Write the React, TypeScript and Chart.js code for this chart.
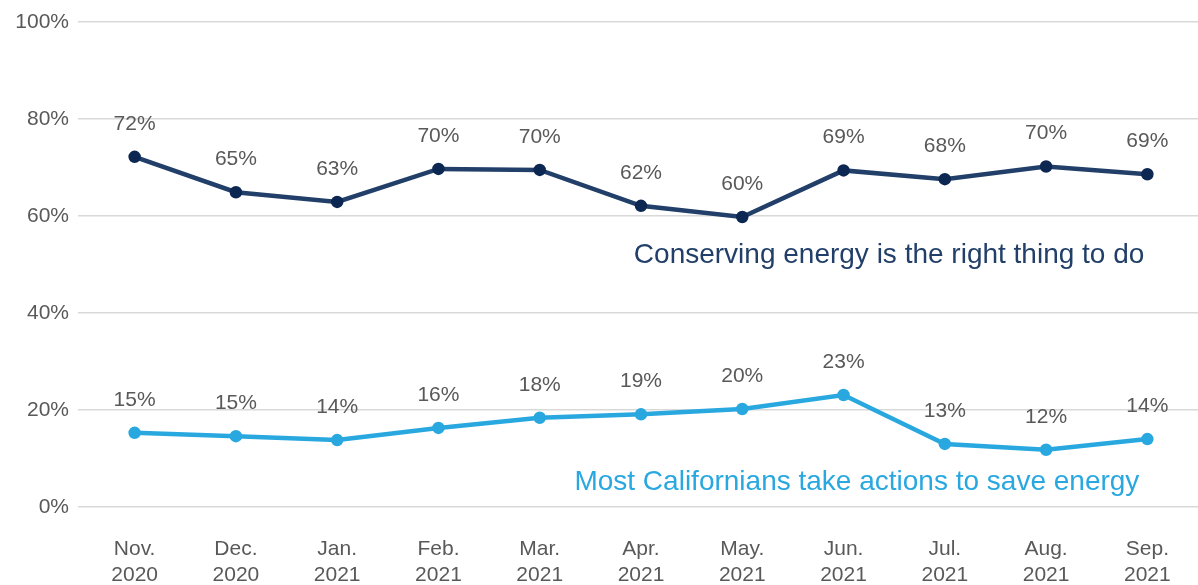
import React, { useEffect, useRef } from "react";
import { Chart, registerables } from "chart.js";

Chart.register(...registerables);

const months = ["Nov.", "Dec.", "Jan.", "Feb.", "Mar.", "Apr.", "May.", "Jun.", "Jul.", "Aug.", "Sep."];
const years = ["2020", "2020", "2021", "2021", "2021", "2021", "2021", "2021", "2021", "2021", "2021"];
const conservingValues = [72.2, 64.9, 62.9, 69.7, 69.5, 62.1, 59.8, 69.4, 67.6, 70.2, 68.6];
const actionsValues = [15.3, 14.6, 13.8, 16.3, 18.4, 19.1, 20.2, 23.1, 13.0, 11.8, 14.0];
const yTicks = [0, 20, 40, 60, 80, 100];
const seriesNames = ["Conserving energy is the right thing to do", "Most Californians take actions to save energy"];

const FONT = "'Liberation Sans', Arial, sans-serif";
const GRAY = "#595959";
const DARK = "#213f68";
const DARK_PT = "#0c2752";
const LIGHT = "#29a8e0";

const labelsPlugin = {
  id: "customLabels",
  afterDatasetsDraw(chart: any) {
    const ctx = chart.ctx;
    ctx.save();
    ctx.font = `21px ${FONT}`;
    ctx.fillStyle = GRAY;
    ctx.textAlign = "center";
    ctx.textBaseline = "middle";
    chart.data.datasets.forEach((ds: any, di: number) => {
      const meta = chart.getDatasetMeta(di);
      meta.data.forEach((pt: any, i: number) => {
        ctx.fillText(Math.round(ds.data[i]) + "%", pt.x, pt.y - 33);
      });
    });
    const xs = chart.scales.x;
    const ys = chart.scales.y;
    ctx.font = `28px ${FONT}`;
    ctx.textAlign = "right";
    ctx.fillStyle = DARK;
    ctx.fillText(seriesNames[0], xs.getPixelForValue(10) - 3, ys.getPixelForValue(52));
    ctx.fillStyle = LIGHT;
    ctx.fillText(seriesNames[1], xs.getPixelForValue(10) - 8, ys.getPixelForValue(5.1));
    ctx.restore();
  },
};

export default function App() {
  const ref = useRef<HTMLCanvasElement>(null);
  useEffect(() => {
    if (!ref.current) return;
    const chart = new Chart(ref.current, {
      type: "line",
      data: {
        labels: months.map((m, i) => [m, years[i]]),
        datasets: [
          {
            label: seriesNames[0],
            data: conservingValues,
            borderColor: DARK,
            backgroundColor: DARK_PT,
            pointBackgroundColor: DARK_PT,
            pointBorderColor: DARK_PT,
            borderWidth: 4.5,
            pointRadius: 4,
            tension: 0,
          },
          {
            label: seriesNames[1],
            data: actionsValues,
            borderColor: LIGHT,
            backgroundColor: LIGHT,
            pointBackgroundColor: LIGHT,
            pointBorderColor: LIGHT,
            borderWidth: 4.5,
            pointRadius: 4,
            tension: 0,
          },
        ],
      },
      options: {
        responsive: false,
        animation: false,
        maintainAspectRatio: false,
        layout: { autoPadding: false, padding: { top: 22, right: 0, left: 0, bottom: 0 } },
        plugins: { legend: { display: false }, tooltip: { enabled: false } },
        scales: {
          x: {
            offset: true,
            grid: { display: false },
            border: { display: false },
            ticks: {
              color: GRAY,
              font: { family: FONT, size: 21, lineHeight: 1.2 },
              padding: 22,
              maxRotation: 0,
              autoSkip: false,
            },
            afterFit: (s: any) => {
              s.height = 78;
              s.paddingLeft = 0;
              s.paddingRight = 0;
            },
          },
          y: {
            min: 0,
            max: 100,
            afterBuildTicks: (s: any) => {
              s.ticks = yTicks.map((v) => ({ value: v }));
            },
            grid: { color: "#d9d9d9", lineWidth: 1.5, drawTicks: true, tickLength: 6, tickColor: "#d9d9d9" },
            border: { display: false },
            ticks: {
              color: GRAY,
              font: { family: FONT, size: 21 },
              padding: 9,
              callback: (v: any) => v + "%",
            },
            afterFit: (s: any) => {
              s.width = 84;
            },
          },
        },
      },
      plugins: [labelsPlugin],
    });
    return () => chart.destroy();
  }, []);
  return (
    <div style={{ position: "fixed", left: 0, top: 0, width: 1198, height: 585, background: "#fff" }}>
      <canvas ref={ref} width={1198} height={585} style={{ width: 1198, height: 585 }} />
    </div>
  );
}
